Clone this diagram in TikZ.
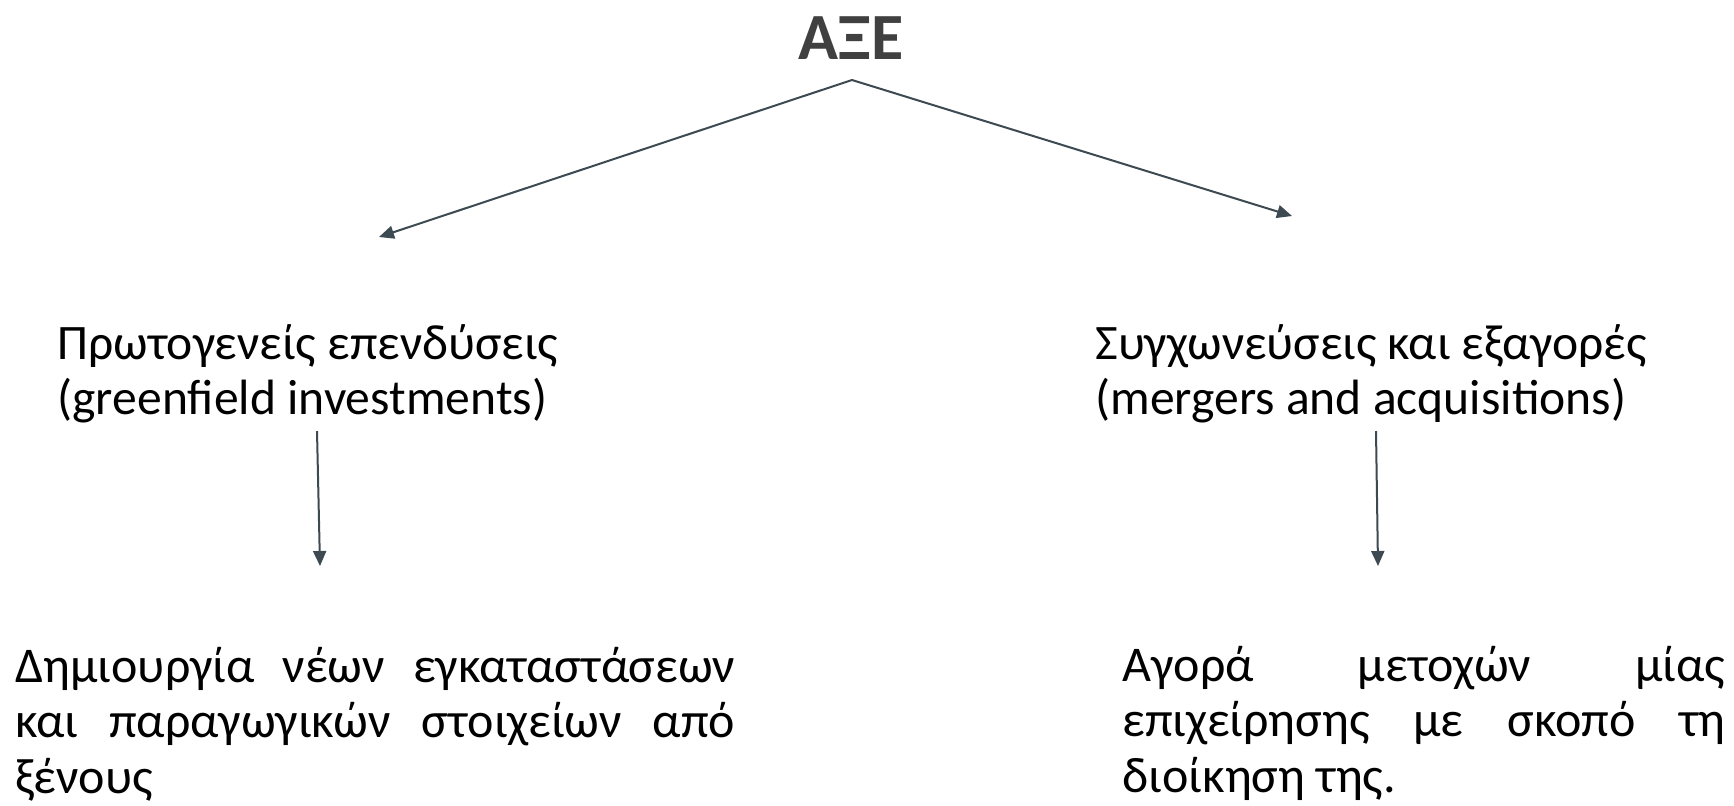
\documentclass[tikz,border=0pt]{standalone}
\usepackage{fontspec}
\setmainfont{Carlito}
\usetikzlibrary{arrows.meta}
\definecolor{titlegray}{HTML}{404040}
\definecolor{arrowgray}{HTML}{3D4A52}

\begin{document}
\begin{tikzpicture}[x=0.5pt, y=-0.5pt,
  arr/.style={draw=arrowgray, line width=1pt, -{Triangle[length=7.5pt,width=6.5pt]}},
  kind/.style={anchor=north west, inner sep=0pt, align=left, font=\fontsize{24.8}{27.5}\selectfont},
  what/.style={anchor=north west, inner sep=0pt, text width=#1, align=justify, font=\fontsize{25}{27.6}\selectfont}]
\useasboundingbox (0,0) rectangle (1734,805);
% Τίτλος
\node[font=\fontsize{33}{34}\bfseries, text=titlegray, inner sep=0pt] (axe) at (851,38) {ΑΞΕ};
% Δύο μορφές
\node[kind] (green) at (57,324) {Πρωτογενείς επενδύσεις\\(greenfield investments)};
\node[kind] (merge) at (1095,324) {Συγχωνεύσεις και εξαγορές\\(mergers and acquisitions)};
% Περιγραφές
\node[what=360pt] (greentxt) at (15,647) {Δημιουργία νέων εγκαταστάσεων και παραγωγικών στοιχείων από ξένους};
\node[what=301.5pt] (mergetxt) at (1122,646) {Αγορά μετοχών μίας επιχείρησης με σκοπό τη διοίκηση της.};
% Άκρα βελών
\coordinate (top) at (852,80);
\coordinate (lefttip) at (379,237);
\coordinate (righttip) at (1292,216);
\coordinate (gstart) at (317,431);
\coordinate (gend) at (320,566);
\coordinate (mstart) at (1376,431);
\coordinate (mend) at (1378,566);
%Βέλη
\draw[arr] (top) -- (lefttip);
\draw[arr] (top) -- (righttip);
\draw[arr] (gstart) -- (gend);
\draw[arr] (mstart) -- (mend);
\end{tikzpicture}
\end{document}
